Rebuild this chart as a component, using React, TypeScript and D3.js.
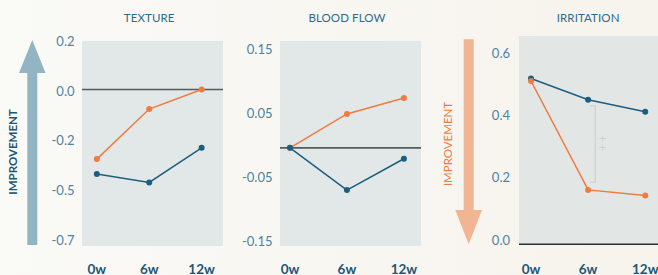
import React from "react";
import * as d3 from "d3";

const weeks = [0, 6, 12];
const weekLabels = ["0w", "6w", "12w"];

const textureBlue = [-0.395, -0.434, -0.272];
const textureOrange = [-0.325, -0.091, 0.0];
const textureTicks = [0.227, -0.006, -0.238, -0.471, -0.703];
const textureTickLabels = ["0.2", "0.0", "-0.2", "-0.5", "-0.7"];

const bloodBlue = [0.0, -0.066, -0.017];
const bloodOrange = [0.0, 0.053, 0.078];
const bloodTicks = [0.154, 0.054, -0.046, -0.146];
const bloodTickLabels = ["0.15", "0.05", "-0.05", "-0.15"];

const irritBlue = [0.533, 0.465, 0.426];
const irritOrange = [0.525, 0.175, 0.157];
const irritTicks = [0.614, 0.414, 0.214, 0.014];
const irritTickLabels = ["0.6", "0.4", "0.2", "0.0"];
const irritBracket = [0.445, 0.2];
const irritSignif = "++";

const BLUE = "#1c5e80";
const ORANGE = "#ef7b3e";
const TICK = "#4d83a3";
const DARK = "#1d5677";
const FONT = "Lato, 'Open Sans', sans-serif";

type PanelCfg = {
  title: string;
  blue: number[];
  orange: number[];
  ticks: number[];
  tickLabels: string[];
  plot: { x0: number; x1: number; y0: number; y1: number };
  yRange: [number, number];
  xDomain: [number, number];
  zeroLine: "mid" | "axis";
  labelRight: number;
  bracket?: number[];
};

const panels: PanelCfg[] = [
  {
    title: "TEXTURE",
    blue: textureBlue,
    orange: textureOrange,
    ticks: textureTicks,
    tickLabels: textureTickLabels,
    plot: { x0: 82, x1: 223, y0: 41, y1: 246 },
    yRange: [41, 240],
    xDomain: [-1.7, 14.45],
    zeroLine: "mid",
    labelRight: 74.5,
  },
  {
    title: "BLOOD FLOW",
    blue: bloodBlue,
    orange: bloodOrange,
    ticks: bloodTicks,
    tickLabels: bloodTickLabels,
    plot: { x0: 280, x1: 421, y0: 41, y1: 246 },
    yRange: [49.3, 241.3],
    xDomain: [-1.05, 13.8],
    zeroLine: "mid",
    labelRight: 272.5,
  },
  {
    title: "IRRITATION",
    blue: irritBlue,
    orange: irritOrange,
    ticks: irritTicks,
    tickLabels: irritTickLabels,
    plot: { x0: 519, x1: 670, y0: 36, y1: 244.4 },
    yRange: [53.3, 240],
    xDomain: [-1.26, 14.6],
    zeroLine: "axis",
    labelRight: 510,
    bracket: irritBracket,
  },
];

function Panel({ cfg }: { cfg: PanelCfg }) {
  const { plot } = cfg;
  const x = d3
    .scaleLinear()
    .domain(cfg.xDomain)
    .range([plot.x0, plot.x1]);
  const y = d3
    .scaleLinear()
    .domain([cfg.ticks[0], cfg.ticks[cfg.ticks.length - 1]])
    .range(cfg.yRange);
  const line = d3
    .line<number>()
    .x((_, i) => x(weeks[i]))
    .y((d) => y(d));
  const cx = (x(weeks[0]) + x(weeks[2])) / 2;
  const series = [
    { vals: cfg.orange, color: ORANGE },
    { vals: cfg.blue, color: BLUE },
  ];
  if (cfg.zeroLine === "axis") series.reverse();
  const bx = x(6.75);
  return (
    <g>
      <rect
        x={plot.x0}
        y={plot.y0}
        width={plot.x1 - plot.x0}
        height={plot.y1 - plot.y0}
        fill={cfg.zeroLine === "axis" ? "#e2e6e4" : "#e2e8e7"}
      />
      <text
        x={cx}
        y={21.5}
        textAnchor="middle"
        fontSize={11.5}
        fill="#2f6a8a"
        fontFamily={FONT}
        letterSpacing={0.1}
      >
        {cfg.title}
      </text>
      {cfg.ticks.map((t, i) => (
        <text
          key={i}
          x={cfg.labelRight}
          y={y(t)}
          dy="0.36em"
          textAnchor="end"
          fontSize={13}
          fill={TICK}
          fontFamily={FONT}
        >
          {cfg.tickLabels[i]}
        </text>
      ))}
      <line
        x1={plot.x0}
        x2={plot.x1}
        y1={y(0)}
        y2={y(0)}
        stroke={cfg.zeroLine === "mid" ? "#555a5c" : "#2b2f31"}
        strokeWidth={cfg.zeroLine === "mid" ? 1.6 : 1.5}
      />
      {cfg.bracket && (
        <g>
          <path
            d={`M${bx - 5},${y(cfg.bracket[0])}H${bx}V${y(cfg.bracket[1])}H${bx - 5}`}
            stroke="#c9cbca"
            strokeWidth={1}
            fill="none"
          />
          <text
            transform={`translate(${bx + 7},${(y(cfg.bracket[0]) + y(cfg.bracket[1])) / 2}) rotate(90)`}
            textAnchor="middle"
            dy="0.3em"
            fontSize={13}
            fontWeight={300}
            letterSpacing={1.5}
            fill="#c4c6c5"
            fontFamily={FONT}
          >
            {irritSignif}
          </text>
        </g>
      )}
      {series.map((s, si) => (
        <g key={si}>
          <path d={line(s.vals) || ""} fill="none" stroke={s.color} strokeWidth={1.5} />
          {s.vals.map((v, i) => (
            <circle key={i} cx={x(weeks[i])} cy={y(v)} r={3} fill={s.color} />
          ))}
        </g>
      ))}
      {weekLabels.map((w, i) => (
        <text
          key={i}
          x={x(weeks[i])}
          y={273.5}
          textAnchor="middle"
          fontSize={13.5}
          fontWeight={700}
          fill={DARK}
          fontFamily={FONT}
        >
          {w}
        </text>
      ))}
    </g>
  );
}

export default function App() {
  return (
    <svg
      width={658}
      height={275}
      style={{ position: "absolute", left: 0, top: 0, display: "block" }}
    >
      <defs>
        <linearGradient id="bg" x1="0" y1="0" x2="1" y2="0">
          <stop offset="0" stopColor="#fafaf6" />
          <stop offset="1" stopColor="#f7f3ed" />
        </linearGradient>
      </defs>
      <rect x={0} y={0} width={658} height={275} fill="url(#bg)" />
      <path
        d="M27.3,73 L19,73 L32.3,40 L45.5,73 L37.3,73 L37.3,245 L27.3,245 Z"
        fill="#93b4c2"
      />
      <text
        transform="translate(16.5,152) rotate(-90)"
        textAnchor="middle"
        fontSize={11.5}
        fontWeight={700}
        fill={DARK}
        fontFamily={FONT}
      >
        IMPROVEMENT
      </text>
      <path
        d="M463.7,39.3 L473.7,39.3 L473.7,210 L482,210 L468.7,244.3 L455.3,210 L463.7,210 Z"
        fill="#f2b593"
      />
      <text
        transform="translate(451.5,144) rotate(-90)"
        textAnchor="middle"
        fontSize={11.5}
        fill={ORANGE}
        fontFamily={FONT}
      >
        IMPROVEMENT
      </text>
      {panels.map((p, i) => (
        <Panel key={i} cfg={p} />
      ))}
    </svg>
  );
}
